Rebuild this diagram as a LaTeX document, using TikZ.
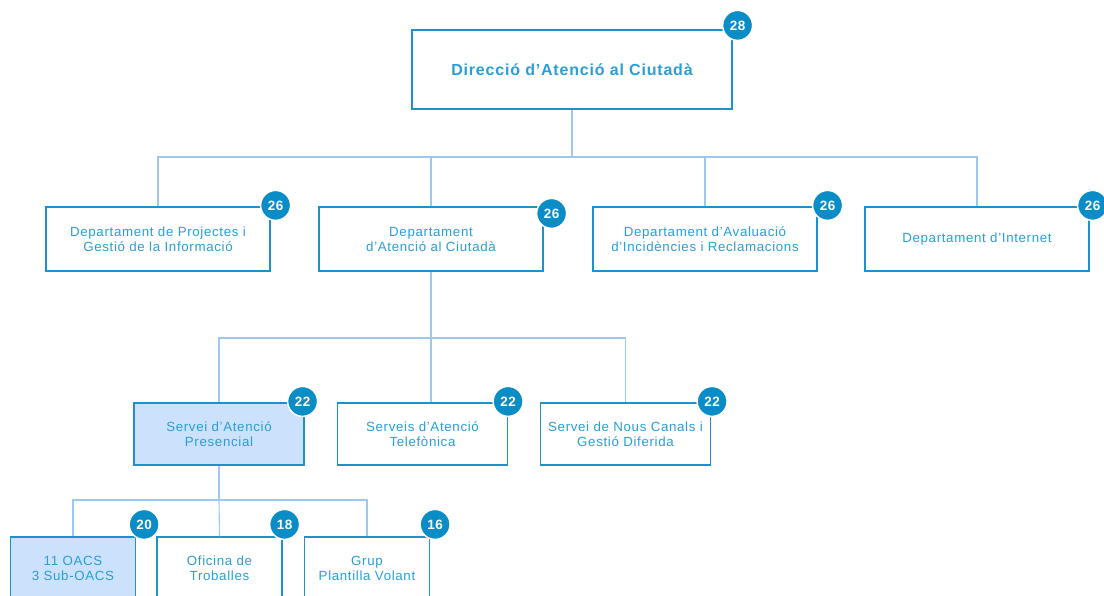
\documentclass[tikz,border=0pt]{standalone}
\usepackage{fontspec}
\setmainfont{Liberation Sans}[LetterSpace=5]
\usetikzlibrary{positioning}
\definecolor{boxline}{HTML}{1E90CC}
\definecolor{boxtext}{HTML}{2A9ED8}
\definecolor{linkline}{HTML}{9FC8F0}
\definecolor{badgefill}{HTML}{0A8CC6}
\definecolor{hilite}{HTML}{CCE1FB}

\tikzset{
    unit/.style={draw=boxline, line width=1.2pt, fill=white, text=boxtext, align=center,
        inner sep=0pt, font=\fontsize{13.3}{15}\selectfont},
    dept/.style={unit, minimum width=224pt, minimum height=64pt},
    servei/.style={unit, minimum width=170pt, minimum height=62pt},
    oficina/.style={unit, minimum width=125pt, minimum height=62pt},
    badge/.style={circle, fill=badgefill, draw=white, line width=1.5pt, minimum size=30pt,
        inner sep=0pt, text=white, font=\fontsize{13.5}{13.5}\selectfont\bfseries},
    link/.style={draw=linkline, line width=1.1pt},
}

\begin{document}
\begin{tikzpicture}[x=1pt,y=-1pt]
    \clip (0,0) rectangle (1104,595);
    \useasboundingbox (0,0) rectangle (1104,595);
    % nodes
    \node[unit, minimum width=320pt, minimum height=79pt, font=\fontsize{16}{17}\selectfont\bfseries] (dir) at (572,69.5) {Direcció d’Atenció al Ciutadà};
    \node[dept] (dpi) at (158,239) {Departament de Projectes i\\Gestió de la Informació};
    \node[dept] (dac) at (431,239) {Departament\\d’Atenció al Ciutadà};
    \node[dept] (dav) at (705,239) {Departament d’Avaluació\\d’Incidències i Reclamacions};
    \node[dept] (din) at (977,239) {Departament d’Internet};
    \node[servei, fill=hilite] (spa) at (219,434) {Servei d’Atenció\\Presencial};
    \node[servei] (sat) at (422.5,434) {Serveis d’Atenció\\Telefònica};
    \node[servei] (snc) at (625.5,434) {Servei de Nous Canals i\\Gestió Diferida};
    \node[oficina, fill=hilite] (oac) at (73,568) {11 OACS\\3 Sub-OACS};
    \node[oficina] (otr) at (219.5,568) {Oficina de\\Troballes};
    \node[oficina] (gpv) at (367,568) {Grup\\Plantilla Volant};
    % connectors
    \coordinate (bus1) at (572,157);
    \coordinate (bus2) at (431,338);
    \coordinate (bus3) at (219,500);
    \draw[link] (dir.south) -- (bus1);
    \draw[link] (dpi.north) |- (bus1) -| (din.north);
    \draw[link] (dac.north) -- (dac.north |- bus1);
    \draw[link] (dav.north) -- (dav.north |- bus1);
    \draw[link] (dac.south) -- (dac.south |- sat.north);
    \draw[link] (spa.north) |- (bus2) -| (snc.north);
    \draw[link] (spa.south) -- (bus3);
    \draw[link] (oac.north) |- (bus3) -| (gpv.north);
    \draw[link] (bus3) -- (otr.north);
    % badges
    \node[badge] (n1) at ([shift={(5,-4)}]dir.north east) {28};
    \node[badge] (n2) at ([shift={(5,-1)}]dpi.north east) {26};
    \node[badge] (n3) at ([shift={(8,7)}]dac.north east) {26};
    \node[badge] (n4) at ([shift={(10,-1)}]dav.north east) {26};
    \node[badge] (n5) at ([shift={(3,-1)}]din.north east) {26};
    \node[badge] (n6) at ([shift={(-2,-1)}]spa.north east) {22};
    \node[badge] (n7) at ([shift={(0,-1)}]sat.north east) {22};
    \node[badge] (n8) at ([shift={(1,-1)}]snc.north east) {22};
    \node[badge] (n9) at ([shift={(8,-12)}]oac.north east) {20};
    \node[badge] (n10) at ([shift={(2,-12)}]otr.north east) {18};
    \node[badge] (n11) at ([shift={(5,-12)}]gpv.north east) {16};
\end{tikzpicture}
\end{document}
